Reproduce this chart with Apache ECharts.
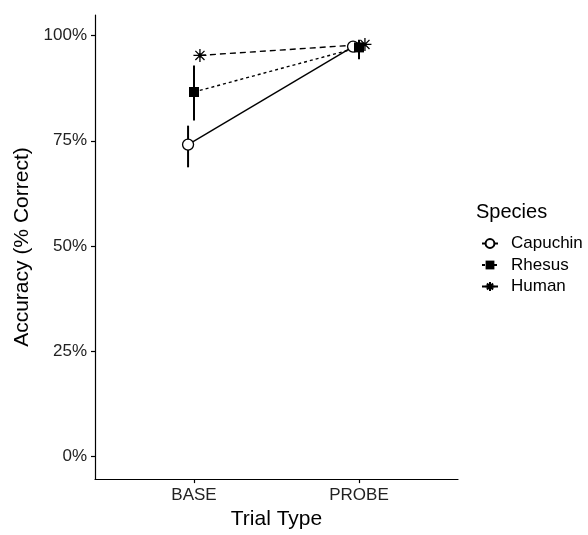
<!DOCTYPE html>
<html><head><meta charset="utf-8">
<script src="https://cdn.jsdelivr.net/npm/echarts@6/dist/echarts.min.js"></script>
<style>html,body{margin:0;padding:0;background:#fff}#c{width:588px;height:535px}</style>
</head><body><div id="c"></div>
<script>
const categories = ['BASE', 'PROBE'];
const species = ['Capuchin', 'Rhesus', 'Human'];
const yTicks = [0, 25, 50, 75, 100];
const capuchinMean = [74.1, 97.4];
const capuchinLow = [68.7, 96.6];
const capuchinHigh = [78.6, 98.2];
const rhesusMean = [86.6, 97.2];
const rhesusLow = [79.8, 94.4];
const rhesusHigh = [92.9, 99.0];
const humanMean = [95.3, 97.9];
const humanLow = [94.8, 97.5];
const humanHigh = [95.8, 98.3];

const dodge = [-0.036, 0, 0.036];
const means = [capuchinMean, rhesusMean, humanMean];
const lows = [capuchinLow, rhesusLow, humanLow];
const highs = [capuchinHigh, rhesusHigh, humanHigh];
const lineTypes = ['solid', [3, 3], [6, 4]];
const symbols = ['circle', 'rect', 'path://M0,-10L0,10M-10,0L10,0M-7,-7L7,7M-7,7L7,-7'];
const symbolSizes = [11, 10, 13];
const FONT = 'Liberation Sans, Arial, sans-serif';

const series = [];
species.forEach((name, i) => {
  const pts = categories.map((c, j) => [j + 1 + dodge[i], means[i][j]]);
  const errs = categories.map((c, j) => [j + 1 + dodge[i], lows[i][j], highs[i][j]]);
  series.push({
    type: 'custom', name: name + '_err', data: errs, z: 2, silent: true,
    renderItem: (params, api) => {
      const p1 = api.coord([api.value(0), api.value(1)]);
      const p2 = api.coord([api.value(0), api.value(2)]);
      return { type: 'line', shape: { x1: p1[0], y1: p1[1], x2: p2[0], y2: p2[1] },
        style: { stroke: '#000', lineWidth: 2 } };
    }
  });
  series.push({
    type: 'line', name: name, data: pts, z: 3,
    symbol: symbols[i], symbolSize: symbolSizes[i], showAllSymbol: true,
    lineStyle: { color: '#000', width: 1.4, type: lineTypes[i] },
    itemStyle: i === 0 ? { color: '#fff', borderColor: '#000', borderWidth: 1.3 }
             : i === 1 ? { color: '#000', borderColor: '#000', borderWidth: 0 }
             : { color: 'none', borderColor: '#000', borderWidth: 1.3 },
    emphasis: { disabled: true }
  });
});

const chart = echarts.init(document.getElementById('c'), null, { renderer: 'canvas' });
chart.setOption({
  animation: false,
  backgroundColor: '#fff',
  title: { text: 'Species', left: 471, top: 197, textStyle: { fontFamily: FONT, fontSize: 20, fontWeight: 'normal', color: '#000' } },
  legend: {
    data: species, orient: 'vertical', left: 476, top: 230, itemWidth: 16, itemHeight: 11, itemGap: 4.5,
    textStyle: { fontFamily: FONT, fontSize: 17, color: '#000', padding: [0, 0, 0, 8] }, selectedMode: false
  },
  grid: { left: 95, top: 15, right: 130, bottom: 46 },
  xAxis: {
    type: 'value', min: 0.4, max: 2.6,
    name: 'Trial Type', nameLocation: 'middle', nameGap: 25,
    nameTextStyle: { fontFamily: FONT, fontSize: 21, color: '#000' },
    axisLine: { onZero: false, lineStyle: { color: '#000', width: 1.2 } },
    axisTick: { customValues: [1, 2], length: 4, lineStyle: { color: '#000', width: 1.2 } },
    axisLabel: { customValues: [1, 2], formatter: v => categories[Math.round(v) - 1] || '', margin: 8,
      fontFamily: FONT, fontSize: 17, color: '#222' },
    splitLine: { show: false }
  },
  yAxis: {
    type: 'value', min: -5.4, max: 104.9,
    name: 'Accuracy (% Correct)', nameLocation: 'middle', nameGap: 61,
    nameTextStyle: { fontFamily: FONT, fontSize: 21, color: '#000' },
    axisLine: { onZero: false, lineStyle: { color: '#000', width: 1.2 } },
    axisTick: { customValues: yTicks, length: 4, lineStyle: { color: '#000', width: 1.2 } },
    axisLabel: { customValues: yTicks, formatter: v => v + '%', margin: 8,
      fontFamily: FONT, fontSize: 17, color: '#222' },
    splitLine: { show: false }
  },
  series: series
});
</script></body></html>
